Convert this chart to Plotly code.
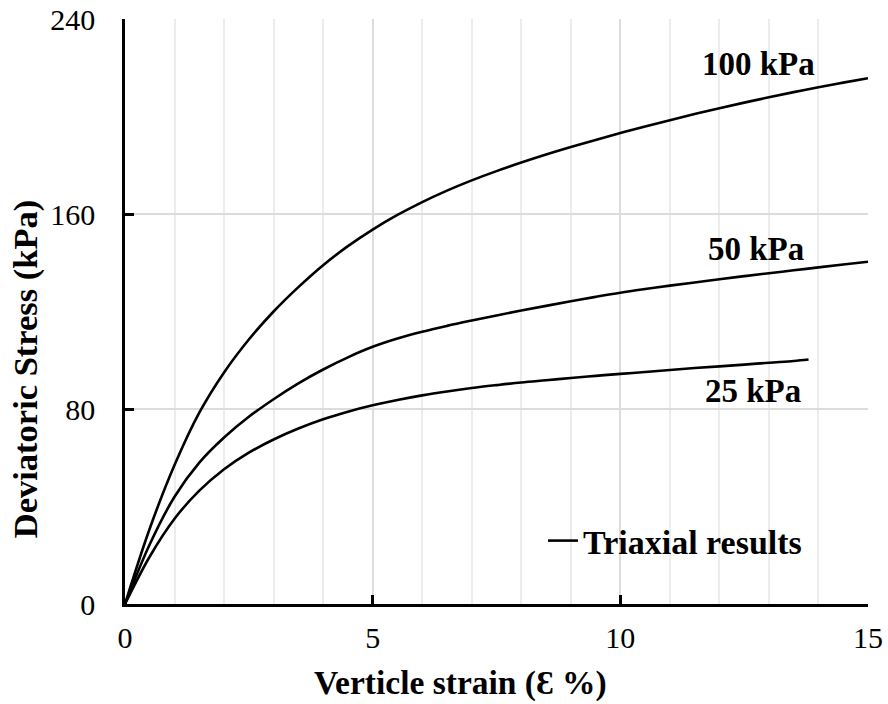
import plotly.graph_objects as go

# Vertical strain (%) and deviatoric stress (kPa)
strain = [0, 0.5, 1, 1.5, 2, 2.5, 3, 3.5, 4, 4.5, 5, 5.5, 6, 6.5, 7, 7.5, 8, 8.5, 9, 9.5,
          10, 10.5, 11, 11.5, 12, 12.5, 13, 13.5, 14, 14.5, 15]
stress_100 = [0, 31, 57, 78.5, 95, 108.5, 120, 130, 139, 146.8, 153.6, 159.6, 164.9, 169.6,
              173.8, 177.6, 181.1, 184.4, 187.5, 190.4, 193.2, 195.9, 198.5, 201, 203.4,
              205.7, 207.9, 210, 212, 213.9, 215.7]
stress_50 = [0, 24.5, 44, 58, 68.3, 76.8, 84, 90.5, 96.2, 101.2, 105.5, 108.9, 111.7, 114.1,
             116.3, 118.4, 120.4, 122.3, 124.2, 126, 127.7, 129.2, 130.6, 131.9, 133.2,
             134.5, 135.7, 136.9, 138.1, 139.3, 140.4]

strain_25 = [0, 0.5, 1, 1.5, 2, 2.5, 3, 3.5, 4, 4.5, 5, 5.5, 6, 6.5, 7, 7.5, 8, 8.5, 9, 9.5,
             10, 10.5, 11, 11.5, 12, 12.5, 13, 13.5, 13.8]
stress_25 = [0, 19.5, 35, 46.5, 55.3, 62.1, 67.5, 72, 75.8, 78.9, 81.5, 83.7, 85.6, 87.2,
             88.6, 89.8, 90.9, 91.8, 92.7, 93.6, 94.4, 95.2, 96, 96.8, 97.5, 98.2, 99, 99.7,
             100.3]

curve_labels = ["100 kPa", "50 kPa", "25 kPa"]
label_x = [12.78, 12.74, 12.68]
label_y = [221.7, 145.6, 87.4]

x_ticks = [0, 5, 10, 15]
y_ticks = [0, 80, 160, 240]

FONT = "Liberation Serif, Times New Roman, serif"
LINE = dict(color="black", width=2.6)

fig = go.Figure()
series = [(strain, stress_100), (strain, stress_50), (strain_25, stress_25)]
for i, (xs, ys) in enumerate(series):
    fig.add_trace(go.Scatter(
        x=xs, y=ys, mode="lines", line=dict(**LINE, shape="spline", smoothing=1.0),
        name="Triaxial results", legendgroup="tri", showlegend=(i == 0),
    ))

for t, lx, ly in zip(curve_labels, label_x, label_y):
    fig.add_annotation(x=lx, y=ly, xref="x", yref="y", text=t, showarrow=False,
                       xanchor="center", yanchor="middle",
                       font=dict(family=FONT, size=33, color="black", weight="bold"))

fig.add_annotation(x=-0.1346, y=0.403, xref="paper", yref="paper",
                   text="Deviatoric Stress (kPa)", textangle=-90, showarrow=False,
                   xanchor="center", yanchor="middle",
                   font=dict(family=FONT, size=34.5, color="black", weight="bold"))
fig.add_annotation(x=0.451, y=-0.135, xref="paper", yref="paper",
                   text="Verticle strain (\u0190 %)", showarrow=False,
                   xanchor="center", yanchor="middle",
                   font=dict(family=FONT, size=33.5, color="black", weight="bold"))

axis_common = dict(
    showline=True, linecolor="black", linewidth=2.5,
    ticks="inside", ticklen=9, tickwidth=2.5, tickcolor="black",
    tickfont=dict(family=FONT, size=30, color="black"),
    zeroline=False, showgrid=True, automargin=False,
)

fig.update_layout(
    width=888, height=704,
    margin=dict(l=125, r=20, t=19, b=100),
    plot_bgcolor="white", paper_bgcolor="white",
    xaxis=dict(range=[0, 15], tickvals=x_ticks, gridcolor="#dcdcdc", gridwidth=1.5,
               minor=dict(dtick=1, showgrid=True, gridcolor="#ececec", gridwidth=1.5, ticks=""),
               ticklabelstandoff=5, **axis_common),
    yaxis=dict(range=[0, 240], tickvals=y_ticks, gridcolor="#dcdcdc", gridwidth=2,
               ticklabelstandoff=21, **axis_common),
    showlegend=True,
    legend=dict(x=0.5626, y=0.1077, xanchor="left", yanchor="middle",
                bgcolor="rgba(0,0,0,0)", borderwidth=0,
                font=dict(family=FONT, size=34, color="black", weight="bold")),
)

fig.write_html("out.html")
